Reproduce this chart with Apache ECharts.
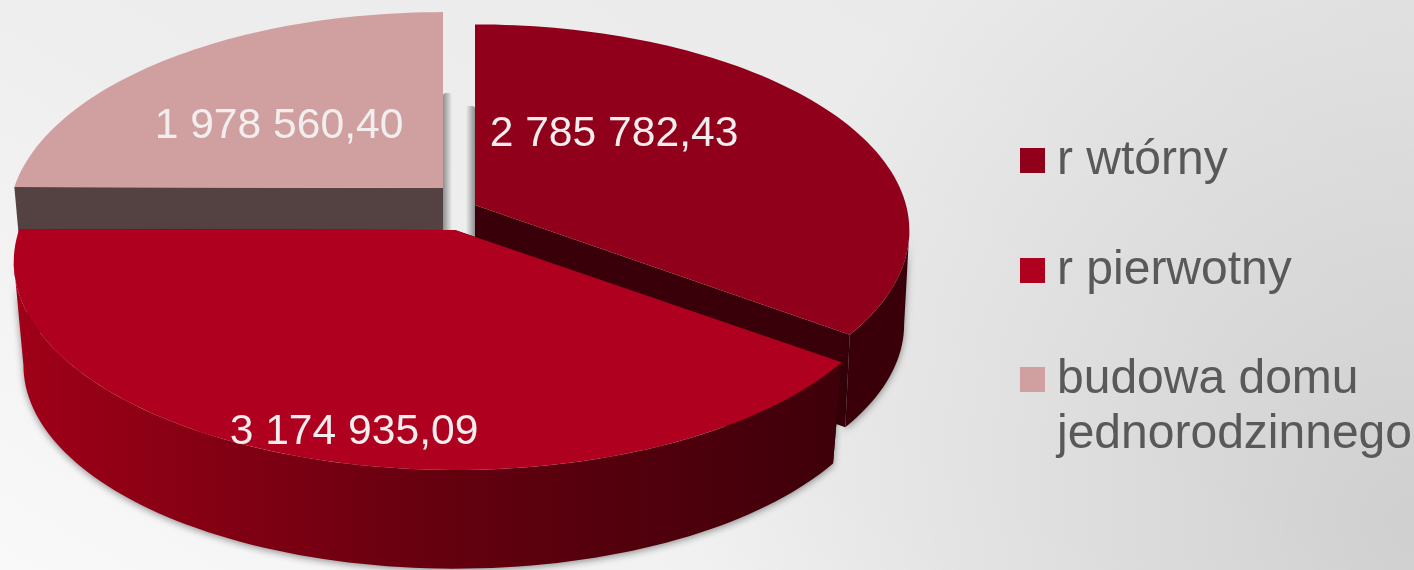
<!DOCTYPE html>
<html>
<head>
<meta charset="utf-8">
<style>
html, body { margin: 0; padding: 0; }
#chart {
  width: 1414px;
  height: 570px;
  background:
    radial-gradient(circle 720px at 100% 92%, rgba(0,0,0,0.12), rgba(0,0,0,0)),
    linear-gradient(30deg, #f9f9f9, #eeeeee 41%, #e8e8e8);
}
</style>
<script src="https://cdn.jsdelivr.net/npm/echarts@6/dist/echarts.min.js"></script>
</head>
<body>
<div id="chart"></div>
<script>
// dane
const categories = ['r wtórny', 'r pierwotny', 'budowa domu\njednorodzinnego'];
const values = [2785782.43, 3174935.09, 1978560.40];

const total = values.reduce((a, b) => a + b, 0);
const fontFamily = '"Liberation Sans", Arial, sans-serif';

// wyglad kazdego wycinka: rzut perspektywiczny okregu + przesuniecie (explode)
const looks = [
  { cx: 475, cy: 205, a: 431, b: 203, k: 0.124, depth: 94, low: 0.988, z: 2, top: '#90001a', side: '#3a0009', cut: '#3a0009',
    labelX: 614, labelY: 134, shade: { dir: -1, y1: 106, y2: 238 } },
  { cx: 455, cy: 230, a: 436, b: 203, k: 0.154, depth: 104, low: 0.978, z: 3, top: '#b00020', cut: '#3a0009',
    side: new echarts.graphic.LinearGradient(0, 0, 1, 0, [
      { offset: 0, color: '#a00018' },
      { offset: 0.5, color: '#66000f' },
      { offset: 1, color: '#3e000a' }
    ]),
    labelX: 354, labelY: 432 },
  { cx: 443, cy: 188, a: 429, b: 203, k: 0.154, depth: 104, low: 0.978, z: 1, top: '#d0a0a0', side: '#544242', cut: '#544242',
    labelX: 279, labelY: 126, shade: { dir: 1, y1: 93, y2: 232 } }
];

function formatValue(v) {
  const parts = v.toFixed(2).split('.');
  return parts[0].replace(/\B(?=(\d{3})+$)/g, ' ') + ',' + parts[1];
}

// katy wycinkow liczone od gory zgodnie z ruchem wskazowek
function sliceAngles(index) {
  let start = 0;
  for (let i = 0; i < index; i++) start += values[i] / total * 360;
  return [start, start + values[index] / total * 360];
}

function project(look, deg, drop, scale) {
  const t = deg * Math.PI / 180;
  const X = Math.sin(t), Y = Math.cos(t);
  const w = 1 + look.k * Y;
  return [look.cx + look.a * scale * X / w, look.cy + drop - look.b * scale * Y / w];
}

function rim(look, from, to, drop, scale) {
  const pts = [];
  const n = Math.max(2, Math.ceil((to - from) / 1.5));
  for (let i = 0; i <= n; i++) pts.push(project(look, from + (to - from) * i / n, drop, scale));
  return pts;
}

function renderSlice(index) {
  return function (params, api) {
    const look = looks[index];
    const [from, to] = sliceAngles(index);
    const apex = [look.cx, look.cy];
    const apexLow = [look.cx, look.cy + look.depth];
    const topRim = rim(look, from, to, 0, 1);
    const lowRim = rim(look, from, to, look.depth, look.low);
    const children = [];

    // cien przy pionowych scianach
    if (look.shade) {
      const dir = look.shade.dir;
      children.push({
        type: 'rect',
        shape: { x: dir > 0 ? look.cx : look.cx - 9, y: look.shade.y1, width: 9, height: look.shade.y2 - look.shade.y1, r: 3 },
        style: {
          fill: new echarts.graphic.LinearGradient(dir > 0 ? 0 : 1, 0, dir > 0 ? 1 : 0, 0, [
            { offset: 0, color: 'rgba(110,110,110,0.75)' },
            { offset: 1, color: 'rgba(110,110,110,0)' }
          ])
        }
      });
    }
    // sciany ciecia
    children.push({
      type: 'polygon',
      shape: { points: [apex, topRim[topRim.length - 1], lowRim[lowRim.length - 1], apexLow] },
      style: { fill: look.cut }
    });
    children.push({
      type: 'polygon',
      shape: { points: [apex, topRim[0], lowRim[0], apexLow] },
      style: { fill: look.cut }
    });
    // bok: tylko czesc widoczna od przodu, miedzy punktami stycznymi obrysu
    const edge = Math.acos(-look.k) * 180 / Math.PI;
    const sideFrom = Math.max(from, edge);
    const sideTo = Math.min(to, 360 - edge);
    if (sideTo > sideFrom) {
      children.push({
        type: 'polygon',
        shape: {
          points: rim(look, sideFrom, sideTo, 0, 1)
            .concat(rim(look, sideFrom, sideTo, look.depth, look.low).reverse())
        },
        style: { fill: look.side, shadowBlur: 7, shadowColor: 'rgba(0,0,0,0.4)', shadowOffsetY: 2 }
      });
    }
    // wierzch
    children.push({
      type: 'polygon',
      shape: { points: [apex].concat(topRim) },
      style: { fill: look.top }
    });
    children.push({
      type: 'text',
      style: {
        x: look.labelX, y: look.labelY,
        text: formatValue(api.value(0)),
        fill: '#f2eeee',
        font: '42.6px ' + fontFamily,
        align: 'center', verticalAlign: 'middle'
      }
    });
    return { type: 'group', children: children };
  };
}

const chart = echarts.init(document.getElementById('chart'));

const legendBase = {
  orient: 'vertical',
  left: 1020,
  padding: 0,
  itemGap: 47,
  itemWidth: 25,
  itemHeight: 25,
  icon: 'rect',
  selectedMode: false,
  // pusta linia na poczatku: znacznik staje na wysokosci pierwszego wiersza nazwy
  formatter: name => (name.indexOf('\n') >= 0 ? '\n' + name : name),
  textStyle: {
    color: '#595959',
    fontFamily: fontFamily,
    fontSize: 48,
    lineHeight: 55,
    padding: [8, 0, 0, 7]
  }
};

const option = {
  animation: false,
  legend: [
    Object.assign({}, legendBase, { top: 129, data: categories.slice(0, 2) }),
    Object.assign({}, legendBase, { top: 293, data: categories.slice(2) })
  ],
  series: categories.map((name, i) => ({
    type: 'custom',
    name: name,
    coordinateSystem: 'none',
    z: looks[i].z,
    silent: true,
    itemStyle: { color: looks[i].top },
    renderItem: renderSlice(i),
    data: [[values[i]]]
  }))
};

chart.setOption(option);
</script>
</body>
</html>
